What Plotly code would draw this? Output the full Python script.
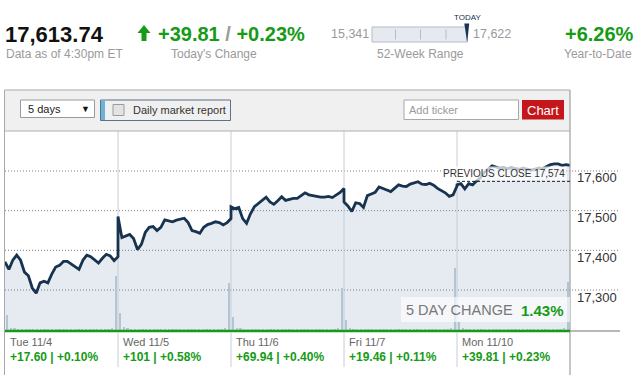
import plotly.graph_objects as go

# ---------------- data ----------------
day_labels = ["Tue 11/4", "Wed 11/5", "Thu 11/6", "Fri 11/7", "Mon 11/10"]
day_point_chg = ["+17.60", "+101", "+69.94", "+19.46", "+39.81"]
day_pct_chg = ["+0.10%", "+0.58%", "+0.40%", "+0.11%", "+0.23%"]

price_tue = [17371, 17352, 17375, 17388, 17375, 17345, 17336, 17305, 17292, 17318,
             17322, 17318, 17340, 17358, 17362, 17372, 17372, 17365, 17357, 17352,
             17375, 17388, 17384, 17375, 17368, 17380, 17390, 17386, 17374, 17384]
price_wed = [17485, 17432, 17436, 17440, 17430, 17402, 17415, 17445, 17458, 17460,
             17450, 17458, 17477, 17474, 17472, 17476, 17478, 17481, 17470, 17450,
             17447, 17443, 17458, 17465, 17468, 17472, 17470, 17464, 17470, 17480]
price_thu = [17510, 17505, 17508, 17480, 17468, 17492, 17510, 17518, 17528, 17534,
             17522, 17516, 17525, 17535, 17526, 17528, 17531, 17531, 17538, 17545,
             17540, 17538, 17535, 17534, 17534, 17536, 17533, 17540, 17546, 17556]
price_fri = [17522, 17512, 17498, 17520, 17518, 17508, 17538, 17542, 17546, 17560,
             17555, 17552, 17548, 17556, 17565, 17562, 17561, 17567, 17570, 17573,
             17567, 17566, 17569, 17564, 17556, 17550, 17545, 17536, 17540, 17562]
price_mon = [17565, 17568, 17555, 17568, 17565, 17575, 17583, 17597, 17606, 17613,
             17610, 17607, 17608, 17606, 17608, 17607, 17605, 17607, 17604, 17602,
             17605, 17607, 17606, 17612, 17616, 17618, 17618, 17614, 17616, 17614]
prices_by_day = [price_tue, price_wed, price_thu, price_fri, price_mon]

vol_tue = [8.0, 1.6, 1.4, 1.2, 1.0, 0.9, 0.8, 0.9, 0.8, 0.7, 0.7, 0.8, 0.7, 0.7, 0.8,
           0.7, 0.7, 0.8, 0.7, 0.8, 0.8, 0.9, 0.8, 0.9, 1.0, 1.0, 1.1, 1.2, 1.6, 27.5]
vol_wed = [9.0, 1.8, 1.4, 1.2, 1.0, 0.9, 0.9, 0.8, 0.8, 0.8, 0.7, 0.7, 0.8, 0.7, 0.7,
           0.7, 0.7, 0.8, 0.7, 0.7, 0.8, 0.8, 0.8, 0.9, 0.9, 1.0, 1.0, 1.2, 1.5, 24.0]
vol_thu = [7.0, 1.7, 1.3, 1.2, 1.0, 0.9, 0.9, 0.8, 0.8, 0.7, 0.7, 0.7, 0.8, 0.7, 0.7,
           0.7, 0.7, 0.7, 0.7, 0.8, 0.7, 0.8, 0.8, 0.8, 0.9, 0.9, 1.0, 1.1, 1.4, 21.5]
vol_fri = [5.5, 1.5, 1.2, 1.1, 1.0, 0.9, 0.9, 0.8, 0.8, 0.7, 0.7, 0.7, 0.7, 0.7, 0.7,
           0.7, 0.7, 0.7, 0.7, 0.7, 0.8, 0.8, 0.8, 0.8, 0.9, 0.9, 1.0, 1.1, 1.5, 31.5]
vol_mon = [4.5, 1.4, 1.2, 1.1, 1.0, 0.9, 0.8, 0.8, 0.7, 0.7, 0.7, 0.7, 0.7, 0.7, 0.7,
           0.7, 0.7, 0.7, 0.7, 0.7, 0.7, 0.8, 0.8, 0.8, 0.8, 0.9, 1.0, 1.1, 1.4, 24.5]
vols_by_day = [vol_tue, vol_wed, vol_thu, vol_fri, vol_mon]

price_ticks = [17300, 17400, 17500, 17600]
price_tick_text = ["17,300", "17,400", "17,500", "17,600"]
previous_close = 17574

last_price = "17,613.74"
today_change = "+39.81"
today_pct = "+0.23%"
week52_low = "15,341"
week52_high = "17,622"
ytd_change = "+6.26%"
five_day_change = "1.43%"

# ---------------- geometry helpers ----------------
W, H = 638, 375
def X(p):
    return p / W
def Y(p):
    return 1 - p / H

GREEN = "#169b16"
GRAY_TXT = "#9a9a9a"
NAVY = "#17334f"
FONT = "Liberation Sans, Arial, sans-serif"

n_days = len(prices_by_day)
day_px = 113.0
x_max = n_days + (620 - 570) / day_px
y_lo = 17600 - (331 - 171) / 0.39667
y_hi = 17600 + (171 - 131) / 0.39667

# x positions derived from sample index within each trading day
px_x, px_y = [], []
for d, vals in enumerate(prices_by_day):
    n = len(vals)
    for i, v in enumerate(vals):
        px_x.append(d + i / (n - 1))
        px_y.append(v)

vx, vy = [], []
for d, vals in enumerate(vols_by_day):
    n = len(vals)
    for i, v in enumerate(vals):
        vx.append(d + (i + 0.5) / n)
        vy.append(v)

fig = go.Figure()

# shaded area below the price
fig.add_trace(go.Scatter(x=px_x, y=px_y, mode="lines", line=dict(width=0),
                         fill="tozeroy", fillcolor="#e6ebf1", hoverinfo="skip",
                         showlegend=False, xaxis="x", yaxis="y"))

# dotted horizontal grid lines
gx, gy = [], []
for t in price_ticks:
    gx += [0, x_max, None]
    gy += [t, t, None]
fig.add_trace(go.Scatter(x=gx, y=gy, mode="lines",
                         line=dict(color="#7f7f7f", width=1, dash="1px,2px"),
                         hoverinfo="skip", showlegend=False, xaxis="x", yaxis="y"))

# day separators inside plot
sx, sy = [], []
for d in range(1, n_days):
    sx += [d, d, None]
    sy += [y_lo, y_hi, None]
fig.add_trace(go.Scatter(x=sx, y=sy, mode="lines",
                         line=dict(color="#c6cdd4", width=1),
                         hoverinfo="skip", showlegend=False, xaxis="x", yaxis="y"))

# volume bars
fig.add_trace(go.Bar(x=vx, y=vy, width=0.6 / 30, marker=dict(color="#b3c4d4", line=dict(width=0)),
                     hoverinfo="skip", showlegend=False, xaxis="x", yaxis="y2"))

# price line
fig.add_trace(go.Scatter(x=px_x, y=px_y, mode="lines",
                         line=dict(color=NAVY, width=2.8),
                         hoverinfo="skip", showlegend=False, xaxis="x", yaxis="y3"))

shapes = []
ann = []

def rect(x0, y0, x1, y1, fill, line_color=None, lw=1, layer="below"):
    shapes.append(dict(type="rect", xref="paper", yref="paper",
                       x0=X(x0), x1=X(x1), y0=Y(y1), y1=Y(y0),
                       fillcolor=fill, layer=layer,
                       line=dict(color=line_color or "rgba(0,0,0,0)", width=lw if line_color else 0)))

def pline(x0, y0, x1, y1, color, width=1, dash="solid", layer="above"):
    shapes.append(dict(type="line", xref="paper", yref="paper",
                       x0=X(x0), x1=X(x1), y0=Y(y0), y1=Y(y1), layer=layer,
                       line=dict(color=color, width=width, dash=dash)))

def text(x, y, s, size, color, xanchor="left", bold=False, yanchor="middle"):
    if bold:
        s = "<b>" + s + "</b>"
    ann.append(dict(xref="paper", yref="paper", x=X(x), y=Y(y), text=s,
                    showarrow=False, xanchor=xanchor, yanchor=yanchor,
                    font=dict(family=FONT, size=size, color=color)))

# ----- header -----
text(3, 34, last_price, 22, "#111", bold=True)
text(3.5, 54, "Data as of 4:30pm ET", 12, GRAY_TXT)
arrow = "M {} {} L {} {} L {} {} L {} {} L {} {} L {} {} L {} {} Z".format(
    X(137.5), Y(33), X(144), Y(25), X(150.5), Y(33), X(146.5), Y(33),
    X(146.5), Y(41), X(141.5), Y(41), X(141.5), Y(33))
shapes.append(dict(type="path", xref="paper", yref="paper", path=arrow,
                   fillcolor=GREEN, line=dict(width=0), layer="above"))
ann.append(dict(xref="paper", yref="paper", x=X(155.5), y=Y(34),
                text="<b>" + today_change + " <span style='color:#9a9a9a'>/</span> " + today_pct + "</b>",
                showarrow=False, xanchor="left", yanchor="middle",
                font=dict(family=FONT, size=20, color=GREEN)))
text(168.5, 54, "Today's Change", 12, GRAY_TXT)

text(329.5, 34, week52_low, 12.5, GRAY_TXT)
rect(372, 27, 467, 42, "#e6eaf0", "#b4bcc6", 1, layer="above")
for tx in [395.5, 420.5, 446]:
    pline(tx, 29.5, tx, 39.5, "#b4bcc6", 1)
needle = "M {} {} L {} {} L {} {} Z".format(X(464.3), Y(23.5), X(469.2), Y(23.5), X(467.2), Y(42.5))
shapes.append(dict(type="path", xref="paper", yref="paper", path=needle,
                   fillcolor=NAVY, line=dict(width=0), layer="above"))
text(467.5, 17, "TODAY", 8, NAVY, xanchor="center")
text(470.5, 34, week52_high, 12.5, GRAY_TXT)
text(374.5, 54, "52-Week Range", 12, GRAY_TXT)

text(562.5, 34, ytd_change, 20, GREEN, bold=True)
text(561.5, 54, "Year-to-Date", 12, GRAY_TXT)

# ----- chart frame and toolbar -----
rect(4.5, 90, 570, 131, "#f0f0f0", layer="below")
pline(4.5, 90, 570, 90, "#a9a9a9", 1)
pline(4.5, 131, 570, 131, "#b0b0b0", 1)
pline(4.5, 90, 4.5, 375, "#a9a9a9", 1)
pline(570, 90, 570, 375, "#a0a0a0", 1.2)

rect(20.5, 100, 94.5, 117.5, "#ffffff", "#9a9a9a", 1, layer="above")
text(25.5, 109, "5 days", 11, "#222")
text(85, 109, "▼", 9, "#111", xanchor="center")

rect(100.5, 100, 230.5, 120.5, "#f0f0f0", "#5f7184", 1, layer="above")
rect(101, 100.5, 105, 120, "#6cb2d6", layer="above")
rect(113, 104.5, 124, 115.5, "#e3e3e3", "#9c9c9c", 1, layer="above")
text(130.5, 110, "Daily market report", 11, "#333")

rect(404, 100, 518.5, 119.5, "#ffffff", "#a8a8a8", 1, layer="above")
text(406.5, 110, "Add ticker", 11, "#9a9a9a")
rect(522, 100, 564, 119.5, "#c4171b", layer="above")
text(543, 110, "Chart", 13, "#ffffff", xanchor="center")

# bottom green line and right grey extension
pline(5, 331, 570, 331, GREEN, 2.5)
pline(570, 331, 620, 331, "#a0a0a0", 1.5)

# separators below plot
for d in range(1, n_days):
    shapes.append(dict(type="line", xref="x", yref="paper", x0=d, x1=d,
                       y0=Y(367), y1=Y(332), layer="above",
                       line=dict(color="#c6cdd4", width=1)))

# previous close dashed line + label
shapes.append(dict(type="line", xref="x", yref="y", x0=n_days - 1, x1=n_days,
                   y0=previous_close, y1=previous_close, layer="above",
                   line=dict(color="#111", width=1, dash="3px,2px")))
ann.append(dict(xref="x", yref="y", x=n_days, y=previous_close,
                text="PREVIOUS CLOSE {:,}".format(previous_close),
                showarrow=False, xanchor="right", yanchor="bottom", xshift=-3,
                bgcolor="rgba(255,255,255,0.72)", borderpad=1,
                font=dict(family=FONT, size=10, color="#333")))

# right side tick labels
for t, s in zip(price_ticks, price_tick_text):
    ann.append(dict(xref="paper", yref="y", x=X(619), y=t, text=s,
                    showarrow=False, xanchor="right", yanchor="middle", yshift=-7,
                    font=dict(family=FONT, size=13, color="#333")))

# 5 day change box
rect(401, 297, 570, 322, "rgba(255,255,255,0.62)", layer="above")
text(403.5, 310, "5 DAY CHANGE", 14.5, "#777")
text(566, 310, five_day_change, 15, GREEN, xanchor="right", bold=True)

# day labels under chart
for d in range(n_days):
    ann.append(dict(xref="x", yref="paper", x=d, y=Y(342), text=day_labels[d],
                    showarrow=False, xanchor="left", yanchor="middle", xshift=3,
                    font=dict(family=FONT, size=11, color="#666")))
    ann.append(dict(xref="x", yref="paper", x=d, y=Y(357),
                    text="<b>{} | {}</b>".format(day_point_chg[d], day_pct_chg[d]),
                    showarrow=False, xanchor="left", yanchor="middle", xshift=3,
                    font=dict(family=FONT, size=12, color=GREEN)))

fig.update_layout(
    width=W, height=H, margin=dict(l=0, r=0, t=0, b=0),
    paper_bgcolor="white", plot_bgcolor="white",
    showlegend=False, bargap=0,
    font=dict(family=FONT),
    xaxis=dict(domain=[X(5), X(620)], range=[0, x_max], visible=False, fixedrange=True),
    yaxis=dict(domain=[Y(331), Y(131)], range=[y_lo, y_hi], visible=False, fixedrange=True),
    yaxis2=dict(overlaying="y", range=[0, 100], visible=False, fixedrange=True),
    yaxis3=dict(overlaying="y", range=[y_lo, y_hi], visible=False, fixedrange=True),
    shapes=shapes, annotations=ann,
)

fig.write_html("out.html", config={"displayModeBar": False},
               post_script="document.body.style.margin='0px';document.body.style.padding='0px';")
